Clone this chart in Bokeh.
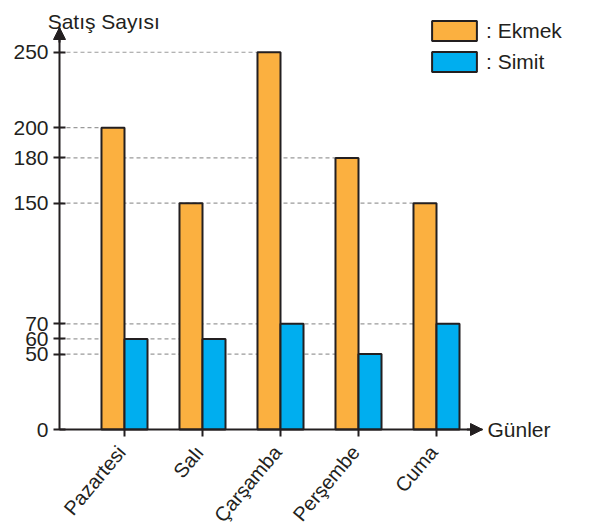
import math
from bokeh.plotting import figure
from bokeh.models import FixedTicker, Arrow, NormalHead, Label, ColumnDataSource
from bokeh.core.properties import value
from bokeh.transform import dodge
from bokeh.embed import file_html
from bokeh.resources import INLINE

days = ["Pazartesi", "Salı", "Çarşamba", "Perşembe", "Cuma"]
ekmek = [200, 150, 250, 180, 150]
simit = [60, 60, 70, 50, 70]
y_ticks = [0, 50, 60, 70, 150, 180, 200, 250]
series_names = [": Ekmek", ": Simit"]
y_title = "Satış Sayısı"
x_title = "Günler"

INK = "#231F20"
ORANGE = "#FBB040"
BLUE = "#00AEEF"
FONT = "Liberation Sans"
FS = "21px"

W, H = 585, 528
PX_X = 78.0      # pixels per category
PX_Y = 1.509     # pixels per unit
OX, OY = 124.0, 429.0   # pixel position of category 0 / value 0

BAR_W = 0.295
OFF = BAR_W / 2
AX_X0, AX_X1 = -0.8333, 4.59    # x axis extent
AX_Y1 = 266.4                   # y axis extent

idx = list(range(len(days)))
src = ColumnDataSource(dict(x=idx, ekmek=ekmek, simit=simit, day=days))

p = figure(width=W, height=H, output_backend="svg", toolbar_location=None,
           x_range=(-OX / PX_X, (W - OX) / PX_X),
           y_range=((OY - H) / PX_Y, OY / PX_Y),
           min_border=0)
p.outline_line_color = None
p.grid.visible = False

# dashed guide lines: from axis to the left edge of the rightmost bar with that value
gx0, gx1, gy = [], [], []
for v in y_ticks[1:]:
    edges = [i - OFF - BAR_W / 2 for i in idx if ekmek[i] == v] + \
            [i + OFF - BAR_W / 2 for i in idx if simit[i] == v]
    if edges:
        gx0.append(AX_X0)
        gx1.append(max(edges))
        gy.append(v)
p.segment(x0=gx0, y0=gy, x1=gx1, y1=gy, line_color="#9a9a9a", line_width=1.2, line_dash="4 3")

p.vbar(x=dodge("x", -OFF), top="ekmek", width=BAR_W, source=src, fill_color=ORANGE,
       line_color=INK, line_width=2, legend_label=series_names[0])
p.vbar(x=dodge("x", OFF), top="simit", width=BAR_W, source=src, fill_color=BLUE,
       line_color=INK, line_width=2, legend_label=series_names[1])

# axes placed at data locations
for ax in (p.xaxis[0], p.yaxis[0]):
    ax.axis_line_color = INK
    ax.axis_line_width = 2
    ax.major_tick_line_color = INK
    ax.major_tick_line_width = 2
    ax.minor_tick_line_color = None
    ax.major_label_text_font = FONT
    ax.major_label_text_font_size = FS
    ax.major_label_text_color = INK

p.yaxis.fixed_location = AX_X0
p.yaxis.bounds = (0, AX_Y1)
p.yaxis.ticker = FixedTicker(ticks=y_ticks)
p.yaxis.major_tick_in = 6
p.yaxis.major_tick_out = 6
p.yaxis.major_label_standoff = 5

p.xaxis.fixed_location = 0
p.xaxis.bounds = (AX_X0, AX_X1)
p.xaxis.ticker = FixedTicker(ticks=idx)
p.xaxis.major_label_overrides = {i: "" for i in idx}
p.xaxis.major_tick_in = 0
p.xaxis.major_tick_out = 7

# rotated day labels under the ticks
p.text(x=dodge("x", -3 / PX_X), y=-19 / PX_Y, text="day", source=src, angle=math.radians(50),
       text_align="right", text_baseline="middle", text_font=value(FONT),
       text_font_size=value("20px"), text_color=INK)

# arrow heads
p.add_layout(Arrow(end=NormalHead(size=12, fill_color=INK, line_color=INK),
                   x_start=AX_X0, y_start=AX_Y1 - 10, x_end=AX_X0, y_end=AX_Y1,
                   line_color=INK, line_width=2))
p.add_layout(Arrow(end=NormalHead(size=12, fill_color=INK, line_color=INK),
                   x_start=AX_X1 - 0.2, y_start=0, x_end=AX_X1, y_end=0,
                   line_color=INK, line_width=2))

# titles
p.add_layout(Label(x=-0.985, y=270.4, text=y_title, text_font=FONT, text_font_size=FS,
                   text_color=INK, text_baseline="alphabetic"))
p.add_layout(Label(x=4.654, y=0, text=x_title, text_font=FONT, text_font_size=FS,
                   text_color=INK, text_baseline="middle"))

# legend (bokeh insets the swatch by 10% on each side)
lg = p.legend[0]
lg.location = (426, 454)
lg.glyph_width = 56
lg.glyph_height = 25
lg.label_height = 25
lg.label_standoff = 4
lg.spacing = 6
lg.padding = 0
lg.margin = 0
lg.border_line_color = None
lg.background_fill_alpha = 0
lg.label_text_font = FONT
lg.label_text_font_size = FS
lg.label_text_color = INK

open("out.html", "w").write(file_html(p, INLINE))
